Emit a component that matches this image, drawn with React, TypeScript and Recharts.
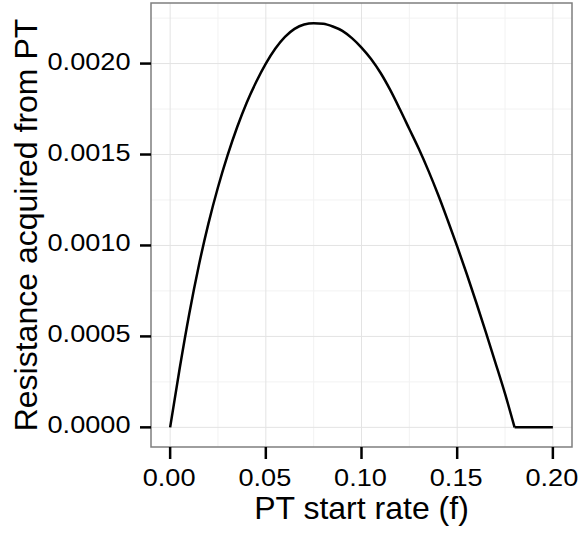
import React from 'react';
import { LineChart, Line, XAxis, YAxis, CartesianGrid, ReferenceArea, Label } from 'recharts';

// PT start rate (f), every 0.005
const rateF = [
  0, 0.005, 0.01, 0.015, 0.02, 0.025, 0.03, 0.035, 0.04, 0.045,
  0.05, 0.055, 0.06, 0.065, 0.07, 0.075, 0.08, 0.085, 0.09, 0.095,
  0.1, 0.105, 0.11, 0.115, 0.12, 0.125, 0.13, 0.135, 0.14, 0.145,
  0.15, 0.155, 0.16, 0.165, 0.17, 0.175, 0.18, 0.185, 0.19, 0.195, 0.2,
];
const resistance = [
  0, 0.000325, 0.000625, 0.00089, 0.00112, 0.00132, 0.001495, 0.00165, 0.001785, 0.0019,
  0.002, 0.002083, 0.002147, 0.002191, 0.002215, 0.002222, 0.002219, 0.002204, 0.00218, 0.00214,
  0.002088, 0.002025, 0.001948, 0.001855, 0.00175, 0.00164, 0.00153, 0.00141, 0.00128, 0.00114,
  0.000995, 0.000843, 0.000685, 0.000522, 0.000355, 0.000185, 0, 0, 0, 0, 0,
];
// where resistance hits zero and stays there
const zeroFrom = 0.18;

const xTicks = [0, 0.05, 0.1, 0.15, 0.2];
const xMinor = [0.025, 0.075, 0.125, 0.175];
const yTicks = [0, 0.0005, 0.001, 0.0015, 0.002];
const yMinor = [0.00025, 0.00075, 0.00125, 0.00175, 0.00225];

const xDomain = [-0.01, 0.21];
const yDomain = [-0.000108, 0.002333];

// split so the corner at zeroFrom stays sharp
const data = rateF.map((f, i) => ({
  f,
  v: f <= zeroFrom ? resistance[i] : null,
  flat: f >= zeroFrom ? resistance[i] : null,
}));

const FONT = '"Liberation Sans", Arial, Helvetica, sans-serif';

const YTick = (props: any) => {
  const { x, y, payload } = props;
  return (
    <g transform={`translate(${x},${y}) scale(1.18,1)`}>
      <text textAnchor="end" dy={6} fontSize={23} fontFamily={FONT} fill="#000">
        {Number(payload.value).toFixed(4)}
      </text>
    </g>
  );
};

const XTick = (props: any) => {
  const { x, y, payload } = props;
  return (
    <g transform={`translate(${x - 1},${y}) scale(1.18,1)`}>
      <text textAnchor="middle" dy={25.5} fontSize={23} fontFamily={FONT} fill="#000">
        {Number(payload.value).toFixed(2)}
      </text>
    </g>
  );
};

const XTitle = (props: any) => {
  const { x, y, width } = props.viewBox;
  return (
    <text x={x + width / 2} y={y + 72} textAnchor="middle" fontSize={32} fontFamily={FONT} fill="#000">
      PT start rate (f)
    </text>
  );
};

const YTitle = (props: any) => {
  const { x, y, height } = props.viewBox;
  return (
    <text
      transform={`translate(${x + 37},${y + height / 2}) rotate(-90)`}
      textAnchor="middle"
      fontSize={32}
      fontFamily={FONT}
      fill="#000"
    >
      Resistance acquired from PT
    </text>
  );
};

export default function App() {
  return (
    <div style={{ position: 'absolute', left: 0, top: 0, width: 580, height: 533, background: '#fff' }}>
      <LineChart width={580} height={533} data={data} margin={{ top: 3, right: 8, bottom: 0, left: 0 }}>
        <CartesianGrid stroke="#f2f2f2" strokeWidth={1} horizontalValues={yMinor} verticalValues={xMinor} />
        <CartesianGrid stroke="#e3e3e3" strokeWidth={1} horizontalValues={yTicks} verticalValues={xTicks} />
        <XAxis
          dataKey="f"
          type="number"
          domain={xDomain}
          ticks={xTicks}
          allowDataOverflow
          height={86}
          axisLine={false}
          tickSize={12}
          tickMargin={2}
          tickLine={{ stroke: '#000', strokeWidth: 2.5 }}
          tick={(p: any) => <XTick {...p} />}
        >
          <Label content={(p: any) => <XTitle {...p} />} />
        </XAxis>
        <YAxis
          type="number"
          domain={yDomain}
          ticks={yTicks}
          allowDataOverflow
          width={151}
          axisLine={false}
          tickSize={11}
          tickMargin={9.5}
          tickLine={{ stroke: '#000', strokeWidth: 2.5 }}
          tick={(p: any) => <YTick {...p} />}
        >
          <Label content={(p: any) => <YTitle {...p} />} />
        </YAxis>
        <Line
          type="monotone"
          dataKey="v"
          stroke="#000"
          strokeWidth={2.5}
          strokeLinejoin="round"
          dot={false}
          isAnimationActive={false}
        />
        <Line
          type="linear"
          dataKey="flat"
          stroke="#000"
          strokeWidth={2.5}
          dot={false}
          isAnimationActive={false}
        />
        <ReferenceArea
          x1={xDomain[0]}
          x2={xDomain[1]}
          y1={yDomain[0]}
          y2={yDomain[1]}
          fill="none"
          stroke="#7f7f7f"
          strokeWidth={1.5}
          ifOverflow="visible"
        />
      </LineChart>
    </div>
  );
}
